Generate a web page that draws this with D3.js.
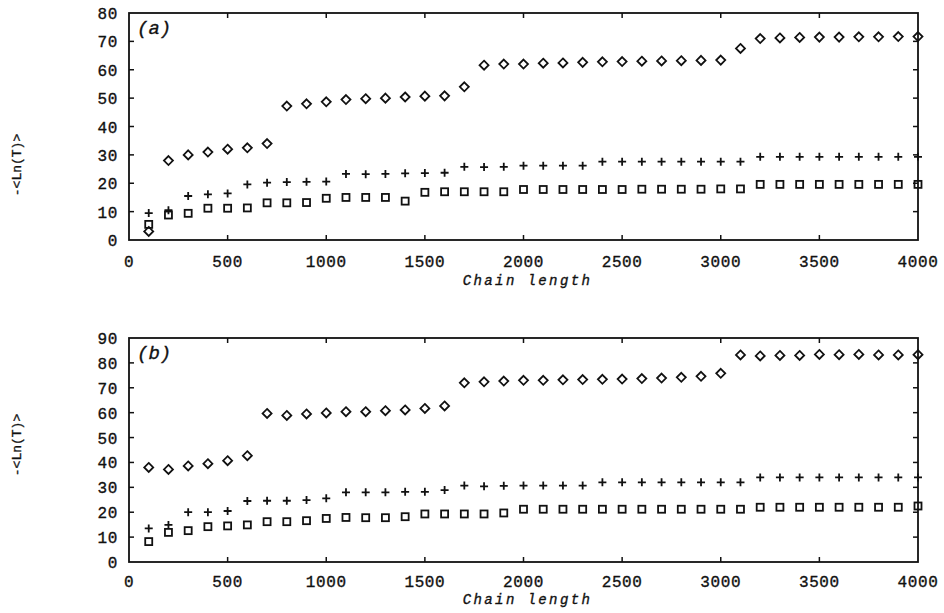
<!DOCTYPE html>
<html>
<head>
<meta charset="utf-8">
<title>Chain length</title>
<script src="https://cdn.jsdelivr.net/npm/d3@7"></script>
<style>
  body { margin: 0; background: #fff; }
  text { font-family: "Liberation Mono", "DejaVu Sans Mono", monospace; fill: #111; stroke: #111; stroke-width: 0.35; }
</style>
</head>
<body>
<div id="chart"></div>
<script>
// data
const chainLength = [100,200,300,400,500,600,700,800,900,1000,
  1100,1200,1300,1400,1500,1600,1700,1800,1900,2000,
  2100,2200,2300,2400,2500,2600,2700,2800,2900,3000,
  3100,3200,3300,3400,3500,3600,3700,3800,3900,4000];

// panel (a)
const aDiamond = [3,28,30,31,32,32.5,34,47.2,48,48.7,
  49.5,49.8,50,50.4,50.7,50.8,54,61.6,62,62,
  62.3,62.4,62.6,62.8,62.9,63,63.1,63.2,63.3,63.4,
  67.5,71,71.2,71.4,71.5,71.5,71.6,71.6,71.7,71.7];
const aCross = [9.5,10.5,15.5,16.1,16.4,19.6,20.2,20.4,20.5,20.6,
  23.3,23.2,23.3,23.5,23.6,23.7,25.8,25.7,25.8,26.2,
  26.2,26.2,26.2,27.6,27.6,27.6,27.6,27.6,27.6,27.6,
  27.6,29.3,29.3,29.3,29.3,29.3,29.3,29.3,29.3,29.3];
const aSquare = [5.5,8.8,9.4,11.2,11.2,11.3,13.1,13.1,13.2,14.7,
  15,15,15,13.7,16.8,17,17,17,17,17.8,
  17.8,17.8,17.8,17.8,17.8,17.9,17.9,17.9,17.9,18,
  18,19.6,19.6,19.6,19.6,19.6,19.6,19.6,19.6,19.6];

// panel (b)
const bDiamond = [38,37.2,38.6,39.5,40.7,42.7,59.7,58.9,59.5,59.9,
  60.4,60.4,60.8,61.1,61.7,62.7,72,72.4,72.7,73,
  73,73.2,73.3,73.4,73.5,73.7,73.9,74.2,74.6,75.8,
  83.2,82.8,83,83,83.4,83.3,83.4,83.2,83.2,83.3];
const bCross = [13.5,14.9,20,20,20.5,24.5,24.6,24.6,24.9,25.6,
  28,28,28,28.2,28.2,28.9,30.7,30.4,30.6,30.7,
  30.7,30.7,30.7,32,32,32,32,32,32,32,
  32,34,34,34,34,34,34,34,34,34];
const bSquare = [8.2,11.9,12.6,14.2,14.5,14.9,16.2,16.2,16.6,17.5,
  17.9,17.8,17.8,18.2,19.3,19.3,19.3,19.3,19.7,21.2,
  21.2,21.2,21.2,21.2,21.2,21.2,21.2,21.2,21.2,21.2,
  21.2,22,22,22,22,22,22,22,22,22.5];

const xTicks = [0,500,1000,1500,2000,2500,3000,3500,4000];
const aYTicks = [0,10,20,30,40,50,60,70,80];
const bYTicks = [0,10,20,30,40,50,60,70,80,90];

const width = 944, height = 613;
const svg = d3.select("#chart").append("svg")
  .attr("width", width).attr("height", height)
  .attr("viewBox", [0, 0, width, height]);

function panel(opts) {
  const {top, bottom, yMax, yTicks, label, diamonds, crosses, squares,
    labelY, tickOff, titleOff} = opts;
  const left = 129, right = 918;
  const x = d3.scaleLinear().domain([0, 4000]).range([left, right]);
  const y = d3.scaleLinear().domain([0, yMax]).range([bottom, top]);
  const g = svg.append("g");
  const tk = 5;

  // frame
  g.append("rect")
    .attr("x", left).attr("y", top)
    .attr("width", right - left).attr("height", bottom - top)
    .attr("fill", "none").attr("stroke", "#111").attr("stroke-width", 1.8);

  // inward ticks
  const xt = xTicks.slice(1, -1);
  g.selectAll(".xb").data(xt).join("line")
    .attr("x1", d => x(d)).attr("x2", d => x(d))
    .attr("y1", bottom).attr("y2", bottom - tk)
    .attr("stroke", "#111").attr("stroke-width", 1.5);
  g.selectAll(".xt").data(xt).join("line")
    .attr("x1", d => x(d)).attr("x2", d => x(d))
    .attr("y1", top).attr("y2", top + tk)
    .attr("stroke", "#111").attr("stroke-width", 1.5);
  const yt = yTicks.slice(1, -1);
  g.selectAll(".yl").data(yt).join("line")
    .attr("x1", left).attr("x2", left + tk)
    .attr("y1", d => y(d)).attr("y2", d => y(d))
    .attr("stroke", "#111").attr("stroke-width", 1.5);
  g.selectAll(".yr").data(yt).join("line")
    .attr("x1", right).attr("x2", right - tk)
    .attr("y1", d => y(d)).attr("y2", d => y(d))
    .attr("stroke", "#111").attr("stroke-width", 1.5);

  // tick labels
  g.selectAll(".xlab").data(xTicks).join("text")
    .attr("x", d => x(d)).attr("y", bottom + tickOff)
    .attr("text-anchor", "middle").attr("font-size", 16)
    .attr("letter-spacing", 0.6)
    .text(d => d);
  g.selectAll(".ylab").data(yTicks).join("text")
    .attr("x", left - 11).attr("y", d => y(d) + 6)
    .attr("text-anchor", "end").attr("font-size", 16)
    .attr("letter-spacing", 0.6)
    .text(d => d);

  g.append("text")
    .attr("x", (left + right) / 2 + 4).attr("y", bottom + titleOff)
    .attr("text-anchor", "middle").attr("font-size", 14)
    .attr("letter-spacing", 2.4)
    .attr("font-style", "italic")
    .text("Chain length");

  g.append("text")
    .attr("transform", `translate(21,${labelY}) rotate(-90)`)
    .attr("text-anchor", "middle").attr("font-size", 13)
    .text("-<Ln(T)>");

  g.append("text")
    .attr("x", left + 8).attr("y", top + 21)
    .attr("font-family", "'Liberation Serif', 'DejaVu Serif', serif")
    .attr("font-style", "italic").attr("font-size", 19)
    .attr("stroke-width", 0.2)
    .text(label);

  // markers
  const ink = "#111";
  g.selectAll(".dia").data(diamonds).join("path")
    .attr("d", "M0,-4.5L4.5,0L0,4.5L-4.5,0Z")
    .attr("transform", (d, i) => `translate(${x(chainLength[i])},${y(d)})`)
    .attr("fill", "none").attr("stroke", ink).attr("stroke-width", 1.8);
  g.selectAll(".crs").data(crosses).join("path")
    .attr("d", "M-4,0H4M0,-4V4")
    .attr("transform", (d, i) => `translate(${x(chainLength[i])},${y(d)})`)
    .attr("fill", "none").attr("stroke", ink).attr("stroke-width", 1.8);
  g.selectAll(".sq").data(squares).join("rect")
    .attr("x", (d, i) => x(chainLength[i]) - 3.5)
    .attr("y", d => y(d) - 3.5)
    .attr("width", 7).attr("height", 7)
    .attr("fill", "none").attr("stroke", ink).attr("stroke-width", 1.8);
}

panel({top: 13, bottom: 240, yMax: 80, yTicks: aYTicks, label: "(a)",
  diamonds: aDiamond, crosses: aCross, squares: aSquare, labelY: 165,
  tickOff: 27, titleOff: 45});
panel({top: 338, bottom: 562, yMax: 90, yTicks: bYTicks, label: "(b)",
  diamonds: bDiamond, crosses: bCross, squares: bSquare, labelY: 445,
  tickOff: 25, titleOff: 42});
</script>
</body>
</html>
